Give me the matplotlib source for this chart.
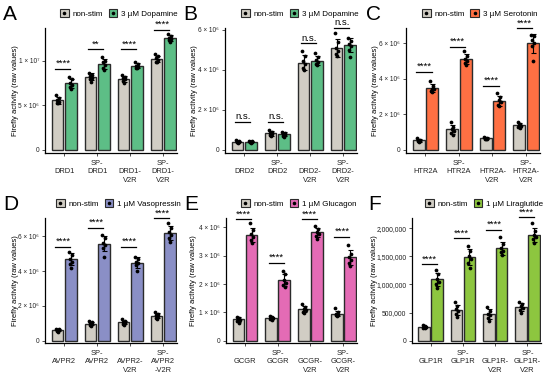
import matplotlib.pyplot as plt
import numpy as np
from matplotlib.patches import Patch
from matplotlib.lines import Line2D

plt.rcParams['font.family'] = ['Liberation Sans', 'DejaVu Sans']

GRAY = '#D1CDC4'
EDGE = '#2b2b2b'

# ---- data (values in millions) ----
panel_letters = ['A', 'B', 'C', 'D', 'E', 'F']
stim_labels = ['3 µM Dopamine', '3 µM Dopamine', '3 µM Serotonin',
               '1 µM Vasopressin', '1 µM Glucagon', '1 µM Liraglutide']
stim_colors = ['#5DBE86', '#5DBE86', '#FF7043', '#8A8FC6', '#E46BB5', '#8DC63F']

xlabels_A = ['\nDRD1', 'SP-\nDRD1', '\nDRD1-\nV2R', 'SP-\nDRD1-\nV2R']
xlabels_B = ['\nDRD2', 'SP-\nDRD2', '\nDRD2-\nV2R', 'SP-\nDRD2-\nV2R']
xlabels_C = ['\nHTR2A', 'SP-\nHTR2A', '\nHTR2A-\nV2R', 'SP-\nHTR2A-\nV2R']
xlabels_D = ['\nAVPR2', 'SP-\nAVPR2', '\nAVPR2-\nV2R', 'SP-\nAVPR2\n-V2R']
xlabels_E = ['\nGCGR', 'SP-\nGCGR', '\nGCGR-\nV2R', 'SP-\nGCGR-\nV2R']
xlabels_F = ['\nGLP1R', 'SP-\nGLP1R', '\nGLP1R-\nV2R', 'SP-\nGLP1R-\nV2R']

mean_non_A = [5.54, 8.2, 7.94, 10.22]
mean_stim_A = [7.45, 9.63, 9.44, 12.55]
pts_non_A = [[6.2, 5.8, 5.6, 5.4, 5.3, 5.2], [8.6, 8.4, 8.3, 8.1, 7.9, 7.6],
             [8.4, 8.2, 8.0, 7.9, 7.7, 7.5], [10.7, 10.5, 10.3, 10.1, 9.9, 9.8]]
pts_stim_A = [[8.2, 7.9, 7.5, 7.3, 7.0, 6.8], [10.4, 10.0, 9.8, 9.5, 9.2, 8.9],
              [9.9, 9.6, 9.4, 9.3, 9.2, 9.2], [13.0, 12.8, 12.6, 12.4, 12.3, 12.1]]
sig_y_A = [9.06, 11.27, 11.27, 13.48]
sig_A = ['****', '**', '****', '****']

mean_non_B = [0.42, 0.83, 4.37, 5.1]
mean_stim_B = [0.42, 0.78, 4.47, 5.25]
pts_non_B = [[0.48, 0.45, 0.42, 0.4, 0.38, 0.36], [1.0, 0.92, 0.85, 0.8, 0.74, 0.68],
             [4.95, 4.7, 4.45, 4.3, 4.1, 4.0], [5.85, 5.4, 5.1, 4.95, 4.8, 4.7]]
pts_stim_B = [[0.47, 0.44, 0.42, 0.41, 0.4, 0.37], [0.92, 0.85, 0.8, 0.75, 0.7, 0.64],
              [4.83, 4.65, 4.5, 4.4, 4.3, 4.25], [5.6, 5.45, 5.3, 5.2, 5.0, 4.65]]
sig_y_B = [1.42, 1.42, 5.33, 6.12]
sig_B = ['n.s.', 'n.s.', 'n.s.', 'n.s.']

mean_non_C = [0.54, 1.16, 0.66, 1.39]
mean_stim_C = [3.47, 5.1, 2.76, 5.98]
pts_non_C = [[0.66, 0.58, 0.54, 0.52, 0.5, 0.47], [1.55, 1.3, 1.15, 1.05, 0.95, 0.85],
             [0.74, 0.7, 0.66, 0.64, 0.62, 0.6], [1.58, 1.48, 1.4, 1.35, 1.3, 1.24]]
pts_stim_C = [[3.88, 3.6, 3.45, 3.4, 3.3, 3.25], [5.55, 5.3, 5.1, 5.0, 4.9, 4.75],
              [3.2, 2.95, 2.8, 2.7, 2.55, 2.45], [6.45, 6.4, 6.2, 6.0, 5.85, 4.97]]
sig_y_C = [4.4, 5.81, 3.6, 6.84]
sig_C = ['****', '****', '****', '****']

mean_non_D = [0.61, 0.98, 1.05, 1.44]
mean_stim_D = [4.68, 5.58, 4.49, 6.19]
pts_non_D = [[0.7, 0.65, 0.62, 0.6, 0.56, 0.52], [1.13, 1.05, 1.0, 0.95, 0.9, 0.85],
             [1.22, 1.12, 1.05, 1.02, 0.98, 0.9], [1.67, 1.55, 1.45, 1.4, 1.32, 1.25]]
pts_stim_D = [[5.1, 4.95, 4.7, 4.55, 4.4, 4.2], [6.05, 5.9, 5.6, 5.5, 5.3, 4.8],
              [4.83, 4.7, 4.55, 4.45, 4.35, 4.0], [6.75, 6.5, 6.25, 6.1, 5.9, 5.65]]
sig_y_D = [5.39, 6.48, 5.39, 7.04]
sig_D = ['****', '****', '****', '****']

mean_non_E = [0.75, 0.8, 1.11, 0.96]
mean_stim_E = [3.73, 2.14, 3.82, 2.94]
pts_non_E = [[0.85, 0.8, 0.76, 0.73, 0.7, 0.64], [0.87, 0.83, 0.8, 0.79, 0.77, 0.74],
             [1.28, 1.2, 1.12, 1.08, 1.03, 0.97], [1.14, 1.0, 0.95, 0.92, 0.9, 0.86]]
pts_stim_E = [[4.14, 3.9, 3.75, 3.65, 3.55, 3.45], [2.45, 2.35, 2.15, 2.05, 1.95, 1.88],
              [4.06, 3.95, 3.85, 3.75, 3.7, 3.6], [3.38, 3.05, 2.95, 2.85, 2.75, 2.65]]
sig_y_E = [4.29, 2.76, 4.29, 3.67]
sig_E = ['****', '****', '****', '****']

mean_non_F = [0.249, 0.55, 0.47, 0.6]
mean_stim_F = [1.09, 1.48, 1.64, 1.87]
pts_non_F = [[0.28, 0.26, 0.25, 0.245, 0.235, 0.225], [0.68, 0.62, 0.57, 0.52, 0.48, 0.43],
             [0.6, 0.53, 0.48, 0.45, 0.4, 0.35], [0.69, 0.65, 0.61, 0.58, 0.55, 0.5]]
pts_stim_F = [[1.26, 1.18, 1.1, 1.05, 1.0, 0.94], [1.69, 1.6, 1.5, 1.45, 1.38, 1.3],
              [1.84, 1.72, 1.65, 1.6, 1.57, 1.53], [2.09, 1.95, 1.88, 1.84, 1.8, 1.74]]
sig_y_F = [1.36, 1.82, 1.97, 2.19]
sig_F = ['****', '****', '****', '****']

yticks_A = [0, 5, 10]
yticklabels_A = ['0', '5 × 10⁶', '1 × 10⁷']
yticks_B = [0, 2, 4, 6]
yticklabels_B = ['0', '2 × 10⁶', '4 × 10⁶', '6 × 10⁶']
yticks_E = [0, 1, 2, 3, 4]
yticklabels_E = ['0', '1 × 10⁶', '2 × 10⁶', '3 × 10⁶', '4 × 10⁶']
yticks_F = [0, 0.5, 1.0, 1.5, 2.0]
yticklabels_F = ['0', '500,000', '1,000,000', '1,500,000', '2,000,000']

panels = [
    (xlabels_A, mean_non_A, mean_stim_A, pts_non_A, pts_stim_A, sig_y_A, sig_A, yticks_A, yticklabels_A),
    (xlabels_B, mean_non_B, mean_stim_B, pts_non_B, pts_stim_B, sig_y_B, sig_B, yticks_B, yticklabels_B),
    (xlabels_C, mean_non_C, mean_stim_C, pts_non_C, pts_stim_C, sig_y_C, sig_C, yticks_B, yticklabels_B),
    (xlabels_D, mean_non_D, mean_stim_D, pts_non_D, pts_stim_D, sig_y_D, sig_D, yticks_B, yticklabels_B),
    (xlabels_E, mean_non_E, mean_stim_E, pts_non_E, pts_stim_E, sig_y_E, sig_E, yticks_E, yticklabels_E),
    (xlabels_F, mean_non_F, mean_stim_F, pts_non_F, pts_stim_F, sig_y_F, sig_F, yticks_F, yticklabels_F),
]

# ---- layout (pixels of a 550x379 canvas) ----
W, H = 550, 379
axes_px = [(45, 28, 177, 153), (225, 28, 357, 153), (406, 28, 540, 153),
           (45, 218, 177, 343), (226, 218, 357, 343), (412, 218, 541, 343)]
ylims = [(-0.37, 13.67), (-0.15, 6.1), (-0.17, 6.85), (-0.13, 7.05), (-0.08, 4.33), (-0.04, 2.18)]
letter_px = [(3, 14), (183, 14), (366, 14), (3, 204), (184, 204), (368, 204)]
legend_px = [(60, 13.5), (241, 13.5), (422, 13.5), (56, 203.5), (241, 203.5), (425, 203.5)]
ylabel_x = [-0.20, -0.208, -0.205, -0.20, -0.218, -0.26]
ytick_size = [4.7, 4.7, 4.7, 4.7, 4.7, 4.9]

jitter = [-0.05, 0.03, -0.01, 0.05, -0.03, 0.01]

fig = plt.figure(figsize=(W / 100, H / 100), dpi=100)

for i, (xl, mn, ms, pn, ps, sy, sl, yt, ytl) in enumerate(panels):
    l, t, r, b = axes_px[i]
    ax = fig.add_axes([l / W, 1 - b / H, (r - l) / W, (b - t) / H])
    x = np.arange(len(xl))
    for off, means, pts, col in [(-0.2, mn, pn, GRAY), (0.2, ms, ps, stim_colors[i])]:
        ax.bar(x + off, means, width=0.36, color=col, edgecolor=EDGE, linewidth=1.0, zorder=2)
        sds = [np.std(p, ddof=1) for p in pts]
        for k, p in enumerate(pts):
            ax.plot(x[k] + off + np.array(jitter[:len(p)]), p, 'o', color='black',
                    ms=2.7, mew=0, zorder=4)
        ax.errorbar(x + off, means, yerr=sds, fmt='none', ecolor='black',
                    elinewidth=0.8, capsize=1.8, capthick=0.8, zorder=5)
    for k in range(len(xl)):
        ax.plot([x[k] - 0.27, x[k] + 0.19], [sy[k], sy[k]], color='black', lw=0.9,
                clip_on=False, zorder=6)
        ax.annotate(sl[k], (x[k] - 0.04, sy[k]), xytext=(0, 0.6), textcoords='offset points',
                    ha='center', va='bottom', fontsize=6.8, annotation_clip=False)

    ax.set_xlim(-0.58, 3.42)
    ax.set_ylim(*ylims[i])
    ax.set_xticks(x)
    ax.set_xticklabels(xl, fontsize=5.4, va='top', linespacing=1.25)
    ax.set_yticks(yt)
    ax.set_yticklabels(ytl, fontsize=ytick_size[i])
    ax.tick_params(length=2.2, width=0.6, pad=2, colors='#333333', labelcolor='#222222')
    ax.tick_params(axis='x', pad=3)
    for s in ['top', 'right']:
        ax.spines[s].set_visible(False)
    for s in ['left', 'bottom']:
        ax.spines[s].set_linewidth(0.9)
    ax.set_ylabel('Firefly activity (raw values)', fontsize=5.5)
    ax.yaxis.set_label_coords(ylabel_x[i], 0.5)

    handles = [(Patch(facecolor=GRAY, edgecolor=EDGE, lw=0.8),
                Line2D([], [], marker='o', color='black', ls='', ms=2.6, mew=0)),
               (Patch(facecolor=stim_colors[i], edgecolor=EDGE, lw=0.8),
                Line2D([], [], marker='o', color='black', ls='', ms=2.6, mew=0))]
    lx, ly = legend_px[i]
    fig.legend(handles, ['non-stim', stim_labels[i]], loc='center left',
               bbox_to_anchor=(lx / W, 1 - ly / H), ncol=2, frameon=False,
               fontsize=5.8, handlelength=1.1, handleheight=1.1, handletextpad=0.45,
               columnspacing=0.7, borderpad=0, borderaxespad=0)

    px, py = letter_px[i]
    fig.text(px / W, 1 - py / H, panel_letters[i], fontsize=15, ha='left', va='center')

fig.savefig('out.png', dpi=100)
